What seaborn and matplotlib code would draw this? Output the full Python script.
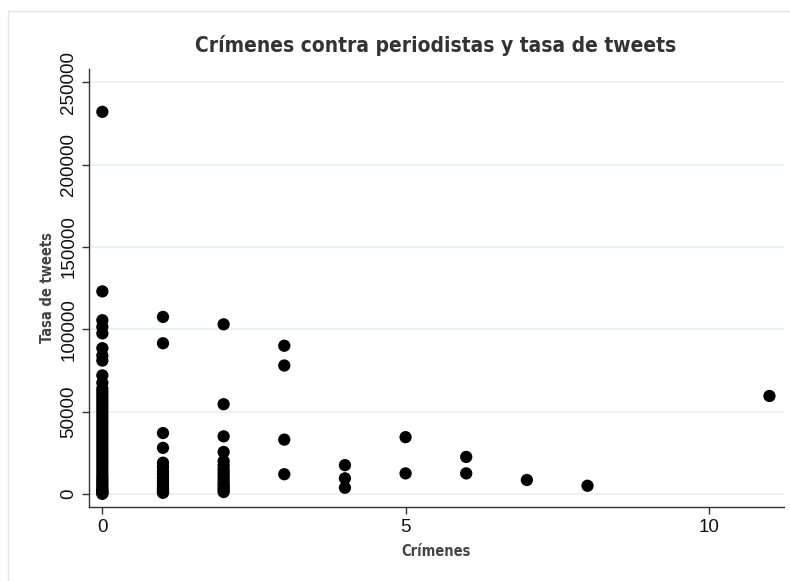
import numpy as np
import pandas as pd
import matplotlib.pyplot as plt
import seaborn as sns
from matplotlib.patches import Rectangle

# values, one list per number of crimes
tasa_0 = [232000, 123000, 105500, 101500, 97500, 88500, 84000, 81000, 72000, 67500,
          64000, 62000, 60000, 58000, 56000, 54000, 52000, 50000, 48000, 46000,
          44000, 42000, 40000, 38000, 36000, 34000, 32000, 30000, 28000, 26000,
          24000, 22000, 20000, 18000, 16000, 14000, 12000, 10000, 8500, 7000,
          5500, 4000, 3000, 2000, 1200, 500, 100]
tasa_1 = [107500, 91500, 37000, 28000, 19000, 16500, 14000, 12000, 10000, 8000,
          6500, 5000, 3500, 2500, 1500, 700]
tasa_2 = [103000, 54500, 35000, 25500, 20000, 17500, 15000, 13000, 11000, 9000,
          7000, 5500, 4000, 2500, 1200]
tasa_3 = [90000, 78000, 33000, 12000]
tasa_4 = [17500, 9500, 3800]
tasa_5 = [34500, 12500]
tasa_6 = [22500, 12500]
tasa_7 = [8500]
tasa_8 = [5000]
tasa_11 = [59500]

groups = {0: tasa_0, 1: tasa_1, 2: tasa_2, 3: tasa_3, 4: tasa_4, 5: tasa_5,
          6: tasa_6, 7: tasa_7, 8: tasa_8, 11: tasa_11}
df = pd.DataFrame([(k, v) for k, vals in groups.items() for v in vals],
                  columns=['crimenes', 'tasa'])

sns.set_style('white')
plt.rcParams['font.family'] = ['Liberation Sans', 'DejaVu Sans']

fig = plt.figure(figsize=(7.9, 5.81), dpi=100)
ax = fig.add_axes([89/790, 1 - 507/581, (784 - 89)/790, (507 - 69)/581])

# light outer frame like the Stata graph region
fig.patches.append(Rectangle((8/790, -0.1), 1.2, 1.1 - 11/581, transform=fig.transFigure,
                             fill=False, edgecolor='#e6e6e6', linewidth=1))

sns.scatterplot(data=df, x='crimenes', y='tasa', color='black', s=78,
                edgecolor='none', ax=ax, zorder=3)

ax.set_xlim(-0.22, 11.24)
ax.set_ylim(-7900, 258000)
ax.set_xticks([0, 5, 10])
ax.set_yticks([0, 50000, 100000, 150000, 200000, 250000])
ax.set_yticklabels(['0', '50000', '100000', '150000', '200000', '250000'],
                   rotation=90, va='center')
ax.yaxis.grid(True, color='#e9eff2', linewidth=1.2)
ax.set_axisbelow(True)
ax.tick_params(axis='both', direction='out', length=5, width=1, color='#333333',
               labelsize=13.5, labelcolor='#111111', bottom=True, left=True)

for side in ['top', 'right']:
    ax.spines[side].set_visible(False)
for side in ['left', 'bottom']:
    ax.spines[side].set_color('#333333')
    ax.spines[side].set_linewidth(1)

cond = dict(family='DejaVu Sans', stretch='condensed', fontweight='bold')
ax.set_xlabel('Crímenes', fontsize=10.5, color='#444444', labelpad=6, **cond)
ax.set_ylabel('Tasa de tweets', fontsize=10.5, color='#444444', labelpad=4, **cond)
fig.text(436/790, 1 - 46/581, 'Crímenes contra periodistas y tasa de tweets',
         fontsize=15, color='#333333', ha='center', va='center', **cond)

fig.savefig('out.png', dpi=100)
